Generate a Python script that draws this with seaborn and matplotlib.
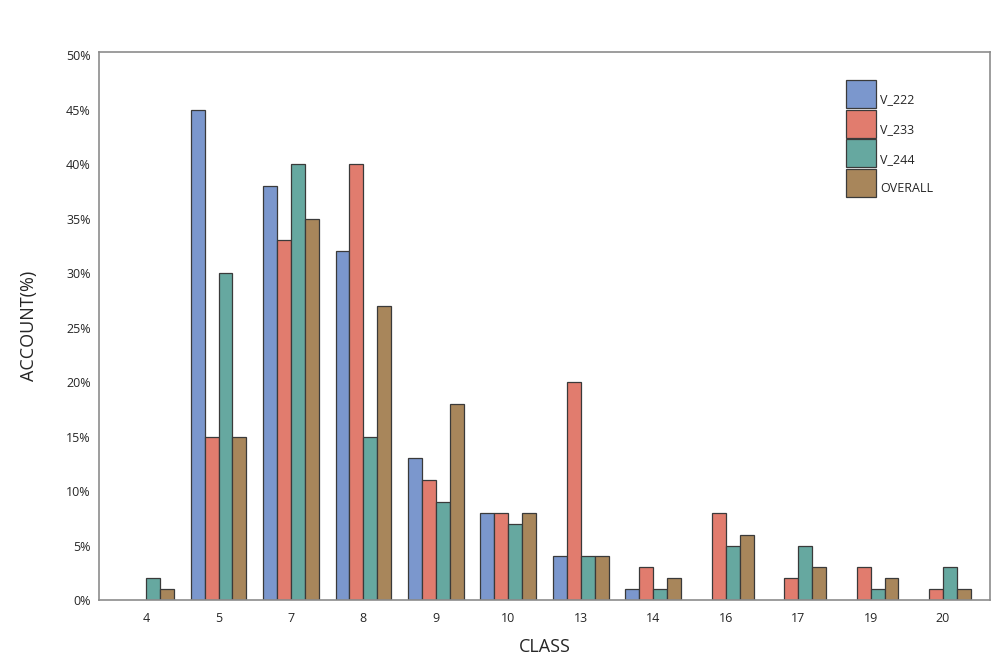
import pandas as pd
import numpy as np
import seaborn as sns
import matplotlib.pyplot as plt
from matplotlib.patches import Rectangle
from matplotlib.legend_handler import HandlerPatch
from matplotlib.ticker import FuncFormatter

# class share per version (%)
classes = ['4', '5', '7', '8', '9', '10', '13', '14', '16', '17', '19', '20']
v_222 = [0, 45, 38, 32, 13, 8, 4, 1, 0, 0, 0, 0]
v_233 = [0, 15, 33, 40, 11, 8, 20, 3, 8, 2, 3, 1]
v_244 = [2, 30, 40, 15, 9, 7, 4, 1, 5, 5, 1, 3]
overall = [1, 15, 35, 27, 18, 8, 4, 2, 6, 3, 2, 1]
series = ['V_222', 'V_233', 'V_244', 'OVERALL']
colors = ['#7b97cd', '#e17c6e', '#66a8a0', '#a8865b']

df = pd.DataFrame({'CLASS': classes, 'V_222': v_222, 'V_233': v_233,
                   'V_244': v_244, 'OVERALL': overall})
df = df.melt(id_vars='CLASS', var_name='version', value_name='share')
# empty classes are simply not drawn
df = df[df['share'] > 0]

sns.set_style('white')
plt.rcParams['font.family'] = ['Open Sans', 'DejaVu Sans']

fig = plt.figure(figsize=(9.99, 6.66), dpi=100)
ax = fig.add_axes([0.0991, 0.0991, 0.892, 0.8228])
sns.barplot(data=df, x='CLASS', y='share', hue='version', order=classes,
            hue_order=series, palette=colors, width=0.77, saturation=1,
            edgecolor='#3a3a3a', linewidth=0.9, ax=ax)

ax.set_xlim(-0.65, len(classes) - 0.35)
ax.set_ylim(0, 50.3)
ax.set_yticks(np.arange(0, 51, 5))
ax.yaxis.set_major_formatter(FuncFormatter(lambda v, p: f'{v:.0f}%'))
ax.tick_params(axis='y', length=4, width=1, color='#888888', labelsize=9, pad=2)
ax.tick_params(axis='x', length=0, labelsize=9, pad=9)
for s in ax.spines.values():
    s.set_color('#8c8c8c')
    s.set_linewidth(1.2)
ax.set_xlabel('CLASS', fontsize=13, labelpad=9)
ax.set_ylabel('ACCOUNT(%)', fontsize=13, labelpad=20)


# legend swatch sits above the label, like the original
def tall_patch(legend, orig_handle, xdescent, ydescent, width, height, fontsize):
    return Rectangle((-xdescent, -ydescent - 3.4), width, 20.2)


handles = [Rectangle((0, 0), 1, 1, facecolor=c, edgecolor='#3a3a3a', linewidth=0.9)
           for c in colors]
leg = ax.legend(handles, series, loc='upper left', bbox_to_anchor=(0.833, 0.934),
                frameon=False, fontsize=9, handlelength=2.4, handleheight=0.7,
                handletextpad=0.3, labelspacing=1.34, borderaxespad=0,
                handler_map={Rectangle: HandlerPatch(patch_func=tall_patch)})

fig.savefig('out.png', dpi=100)
